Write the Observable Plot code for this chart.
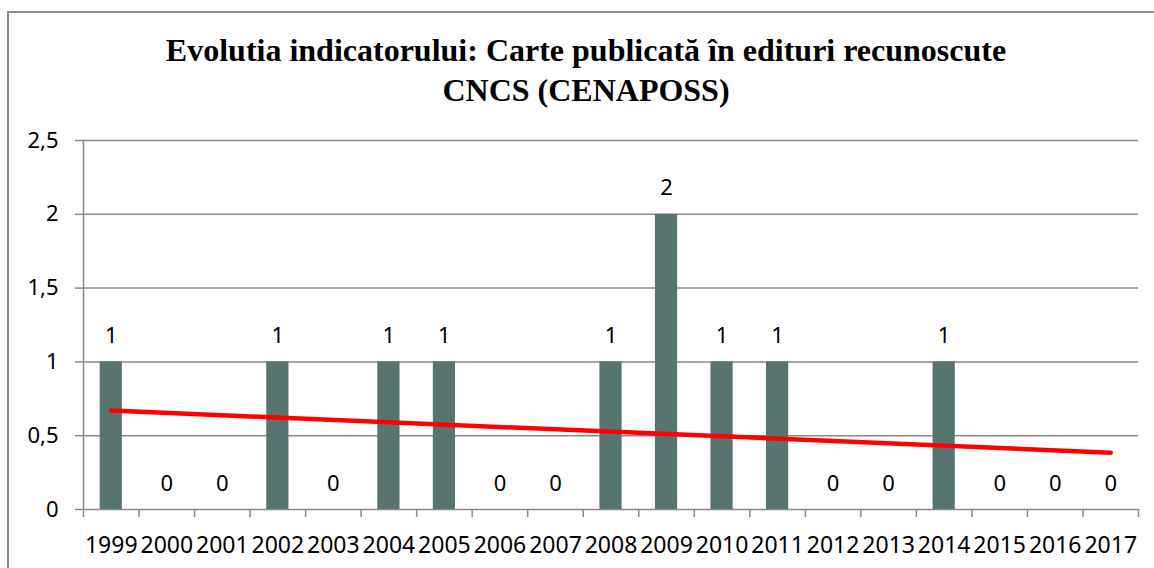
<!DOCTYPE html>
<html>
<head>
<meta charset="utf-8">
<script src="https://cdn.jsdelivr.net/npm/d3@7"></script>
<script src="https://cdn.jsdelivr.net/npm/@observablehq/plot@0.6"></script>
<style>
  html, body { margin: 0; padding: 0; background: #fff; }
  #wrap { position: relative; width: 1154px; height: 568px; overflow: hidden; }
  #border { position: absolute; left: 7px; top: 11px; width: 1200px; height: 600px;
            border-left: 2px solid #898989; border-top: 2px solid #898989; }
  #title { position: relative; height: 80px; padding-top: 30px; width: 1172px;
           text-align: center; font-family: "Liberation Serif", "Times New Roman", serif;
           font-weight: bold; font-size: 32px; line-height: 40px; color: #000; }
  #chart { position: relative; }
</style>
</head>
<body>
<div id="wrap">
  <div id="border"></div>
  <div id="title">Evolutia indicatorului: Carte publicată în edituri recunoscute<br>CNCS (CENAPOSS)</div>
  <div id="chart"></div>
</div>
<script>
const years = ["1999","2000","2001","2002","2003","2004","2005","2006","2007","2008","2009","2010","2011","2012","2013","2014","2015","2016","2017"];
const values = [1,0,0,1,0,1,1,0,0,1,2,1,1,0,0,1,0,0,0];
const trendYears = ["1999","2017"];
const trendValues = [0.67, 0.385];
const yTicks = [0, 0.5, 1, 1.5, 2, 2.5];

const data = years.map((y, i) => ({year: y, value: values[i]}));
const trend = trendYears.map((y, i) => ({year: y, value: trendValues[i]}));

const W = 1154, H = 458, mL = 83, mR = 16, mT = 30, mB = 59;
const step = (W - mL - mR) / years.length;
const fmt = d => String(d).replace(".", ",");
const font = "'Noto Sans', 'Open Sans', sans-serif";

const plot = Plot.plot({
  width: W, height: H,
  marginLeft: mL, marginRight: mR, marginTop: mT, marginBottom: mB,
  style: {fontFamily: font, fontSize: "22px", color: "#000", background: "transparent"},
  x: {type: "band", domain: years, paddingInner: 0.6, paddingOuter: 0.3, round: false, label: null},
  y: {domain: [0, 2.5], label: null},
  marks: [
    Plot.gridY(yTicks, {stroke: "#898989", strokeOpacity: 1, strokeWidth: 1.5}),
    Plot.axisY(yTicks, {tickSize: 8, tickPadding: 17, tickFormat: fmt, stroke: "#898989", strokeWidth: 1.5, fontSize: 22, label: null}),
    Plot.axisX({tickSize: 0, tickPadding: 27, fontSize: 23, label: null}),
    Plot.ruleX([years[0]], {x: d => d, y1: 0, y2: 2.5, dx: -step / 2, stroke: "#898989", strokeWidth: 1.5}),
    Plot.ruleX(years, {x: d => d, y1: 0, y2: 0, insetBottom: -8, dx: -step / 2, stroke: "#898989", strokeWidth: 1.5}),
    Plot.ruleX([years[years.length - 1]], {x: d => d, y1: 0, y2: 0, insetBottom: -8, dx: step / 2, stroke: "#898989", strokeWidth: 1.5}),
    Plot.barY(data, {x: "year", y: "value", fill: "#577471"}),
    Plot.text(data, {x: "year", y: "value", text: d => fmt(d.value), dy: -26, fontSize: 22, fill: "#000"}),
    Plot.line(trend, {x: "year", y: "value", stroke: "#ff0000", strokeWidth: 4.5, strokeLinecap: "round"})
  ]
});
document.getElementById("chart").appendChild(plot);
</script>
</body>
</html>
